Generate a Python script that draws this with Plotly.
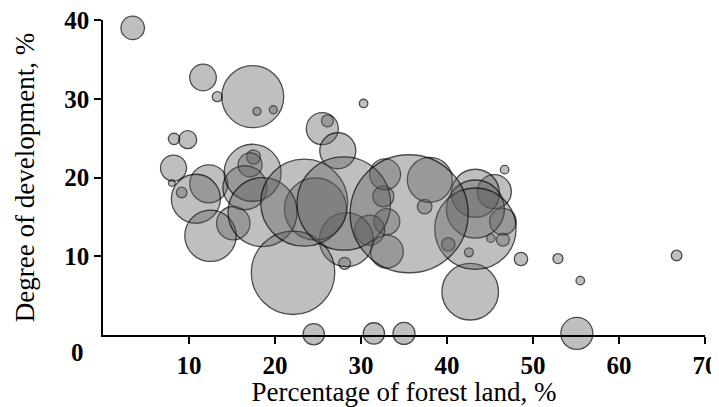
import numpy as np
import plotly.graph_objects as go

# Percentage of forest land, %
forest = [3.45, 11.63, 13.29, 17.41, 17.9, 19.8, 8.26, 9.85, 25.5, 26.1,
          8.2, 27.3, 30.3, 46.7, 48.6, 52.9, 66.7, 55.5, 42.7, 31.5,
          35.0, 55.1, 24.5, 22.1, 12.5, 15.15, 28.1, 35.6, 43.3, 43.3,
          45.5, 38.0, 37.4, 40.15, 42.55, 45.1, 46.5, 46.5, 32.8, 32.6,
          33.0, 33.0, 43.3, 8.0, 9.15, 10.8, 12.3, 17.4, 17.5, 17.1,
          18.55, 23.4, 28.0, 24.7, 28.3, 16.5, 31.0]
# Degree of development, %
development = [39.0, 32.7, 30.26, 30.26, 28.4, 28.6, 24.9, 24.8, 26.2, 27.2,
               21.2, 23.4, 29.4, 21.0, 9.65, 9.7, 10.1, 6.9, 5.5, 0.2,
               0.2, 0.2, 0.1, 7.9, 12.6, 14.2, 9.1, 15.4, 13.5, 18.0,
               18.2, 19.7, 16.3, 11.5, 10.5, 12.3, 12.1, 14.4, 20.4, 17.6,
               14.4, 10.6, 16.0, 19.3, 18.1, 17.3, 19.2, 20.6, 22.6, 21.6,
               15.6, 16.8, 16.7, 16.0, 12.1, 18.7, 13.3]
# Bubble weight
weight = [13.7, 17.7, 2.5, 96.1, 1.6, 1.6, 3.2, 8.1, 25.6, 3.6,
          16.9, 32.4, 1.8, 1.8, 4.5, 2.5, 2.8, 1.8, 80.1, 11.4,
          12.1, 25.6, 11.4, 173.9, 66.0, 27.9, 3.6, 348.1, 165.6, 57.6,
          28.9, 50.6, 5.3, 4.5, 2.0, 1.8, 4.2, 17.7, 24.0, 11.0,
          16.9, 27.2, 84.1, 1.1, 2.8, 60.0, 36.1, 81.2, 4.9, 14.4,
          119.0, 189.2, 218.1, 96.1, 72.9, 48.4, 22.5]

x_ticks = [10, 20, 30, 40, 50, 60, 70]
y_ticks = [10, 20, 30, 40]

order = np.argsort(weight, kind="stable")
xs = [forest[i] for i in order]
ys = [development[i] for i in order]
ws = [weight[i] for i in order]

FONT = "Liberation Serif"

fig = go.Figure(go.Scatter(
    x=xs, y=ys, mode="markers",
    marker=dict(size=ws, sizemode="area", sizeref=0.05,
                color="rgba(94,94,94,0.56)",
                line=dict(color="black", width=1.3)),
    cliponaxis=False, hoverinfo="x+y",
))

axis_common = dict(showgrid=False, zeroline=False, showline=True,
                   linecolor="black", linewidth=1.5, ticks="outside",
                   ticklen=7, tickwidth=1.5, tickcolor="black",
                   automargin=False, ticklabeloverflow="allow",
                   tickfont=dict(family=FONT, size=25, color="black",
                                 weight="bold"))

fig.update_layout(
    template="none",
    width=711, height=399,
    margin=dict(l=95, r=14, t=12, b=72),
    plot_bgcolor="white", paper_bgcolor="white",
    showlegend=False,
    xaxis=dict(range=[0, 70], tickvals=x_ticks,
               title=dict(text="Percentage of forest land, %",
                          font=dict(family=FONT, size=27, color="black"),
                          standoff=6),
               **axis_common),
    yaxis=dict(range=[0, 40], tickvals=y_ticks,
               title=dict(text="Degree of development, %",
                          font=dict(family=FONT, size=27, color="black"),
                          standoff=22),
               **axis_common),
    annotations=[dict(text="0", xref="paper", yref="paper",
                      x=-0.042, y=-0.054, showarrow=False,
                      xanchor="center", yanchor="middle",
                      font=dict(family=FONT, size=25, color="black",
                                weight="bold"))],
)

fig.write_html("out.html")
